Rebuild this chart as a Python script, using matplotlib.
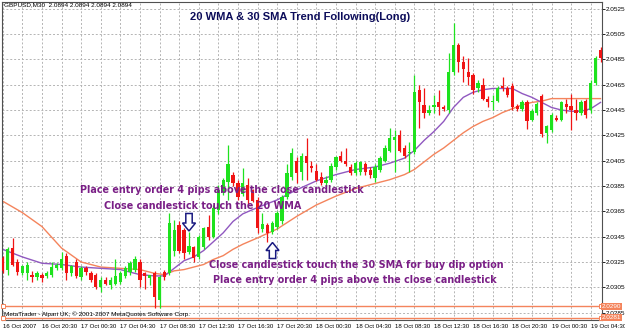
import matplotlib
matplotlib.use("Agg")
import matplotlib.pyplot as plt
from matplotlib.patches import Rectangle, Polygon

# ---------------- data (GBPUSD M30) ----------------
opens = [2.0328, 2.0319, 2.0336, 2.0325, 2.0316, 2.0316, 2.0315, 2.0313, 2.0315, 2.0314,
         2.0315, 2.0320, 2.0320, 2.0330, 2.0316, 2.0325, 2.0313, 2.0320, 2.0316, 2.0315,
         2.0305, 2.0311, 2.0307, 2.0308, 2.0309, 2.0314, 2.0317, 2.0319, 2.0325, 2.0316,
         2.0312, 2.0316, 2.0295, 2.0317, 2.0316, 2.0334, 2.0354, 2.0350, 2.0333, 2.0337,
         2.0329, 2.0337, 2.0353, 2.0345, 2.0366, 2.0380, 2.0388, 2.0394, 2.0387, 2.0379,
         2.0386, 2.0382, 2.0374, 2.0351, 2.0354, 2.0349, 2.0353, 2.0357, 2.0376, 2.0392,
         2.0405, 2.0396, 2.0409, 2.0401, 2.0397, 2.0392, 2.0387, 2.0390, 2.0400, 2.0409,
         2.0405, 2.0400, 2.0395, 2.0396, 2.0402, 2.0398, 2.0391, 2.0398, 2.0405, 2.0413,
         2.0421, 2.0425, 2.0415, 2.0411, 2.0412, 2.0461, 2.0449, 2.0443, 2.0447, 2.0451,
         2.0447, 2.0445, 2.0475, 2.0496, 2.0483, 2.0475, 2.0473, 2.0462, 2.0465, 2.0454,
         2.0451, 2.0452, 2.0464, 2.0462, 2.0464, 2.0448, 2.0446, 2.0451, 2.0437, 2.0443,
         2.0456, 2.0427, 2.0429, 2.0439, 2.0437, 2.0450, 2.0448, 2.0445, 2.0443, 2.0452,
         2.0445, 2.0466, 2.0492]
highs = [2.0330, 2.0337, 2.0344, 2.0327, 2.0323, 2.0325, 2.0318, 2.0318, 2.0316, 2.0318,
         2.0325, 2.0324, 2.0333, 2.0332, 2.0323, 2.0327, 2.0322, 2.0322, 2.0318, 2.0316,
         2.0313, 2.0313, 2.0313, 2.0327, 2.0318, 2.0322, 2.0326, 2.0330, 2.0327, 2.0317,
         2.0315, 2.0318, 2.0315, 2.0319, 2.0364, 2.0358, 2.0357, 2.0352, 2.0349, 2.0338,
         2.0346, 2.0353, 2.0362, 2.0370, 2.0386, 2.0391, 2.0417, 2.0396, 2.0390, 2.0399,
         2.0391, 2.0383, 2.0376, 2.0364, 2.0356, 2.0357, 2.0365, 2.0378, 2.0402, 2.0415,
         2.0408, 2.0411, 2.0423, 2.0405, 2.0402, 2.0396, 2.0393, 2.0403, 2.0409, 2.0413,
         2.0415, 2.0402, 2.0405, 2.0405, 2.0404, 2.0400, 2.0402, 2.0409, 2.0417, 2.0431,
         2.0429, 2.0429, 2.0417, 2.0420, 2.0473, 2.0465, 2.0462, 2.0449, 2.0457, 2.0461,
         2.0449, 2.0490, 2.0514, 2.0498, 2.0488, 2.0486, 2.0474, 2.0469, 2.0470, 2.0456,
         2.0457, 2.0464, 2.0471, 2.0464, 2.0466, 2.0450, 2.0453, 2.0453, 2.0446, 2.0451,
         2.0458, 2.0433, 2.0443, 2.0441, 2.0452, 2.0454, 2.0458, 2.0454, 2.0453, 2.0454,
         2.0469, 2.0488, 2.0495]
lows = [2.0316, 2.0315, 2.0322, 2.0315, 2.0315, 2.0311, 2.0309, 2.0311, 2.0309, 2.0312,
        2.0313, 2.0319, 2.0319, 2.0311, 2.0314, 2.0312, 2.0311, 2.0315, 2.0309, 2.0304,
        2.0301, 2.0307, 2.0304, 2.0307, 2.0308, 2.0312, 2.0315, 2.0317, 2.0305, 2.0304,
        2.0307, 2.0289, 2.0289, 2.0311, 2.0315, 2.0330, 2.0332, 2.0327, 2.0331, 2.0325,
        2.0327, 2.0335, 2.0342, 2.0344, 2.0363, 2.0378, 2.0374, 2.0385, 2.0374, 2.0377,
        2.0370, 2.0372, 2.0348, 2.0349, 2.0341, 2.0347, 2.0351, 2.0355, 2.0375, 2.0390,
        2.0387, 2.0390, 2.0390, 2.0396, 2.0389, 2.0386, 2.0385, 2.0388, 2.0398, 2.0404,
        2.0401, 2.0394, 2.0394, 2.0394, 2.0394, 2.0391, 2.0388, 2.0396, 2.0404, 2.0412,
        2.0396, 2.0412, 2.0407, 2.0396, 2.0410, 2.0431, 2.0439, 2.0441, 2.0443, 2.0441,
        2.0444, 2.0443, 2.0473, 2.0475, 2.0467, 2.0465, 2.0458, 2.0459, 2.0453, 2.0447,
        2.0445, 2.0451, 2.0460, 2.0455, 2.0445, 2.0444, 2.0444, 2.0430, 2.0436, 2.0441,
        2.0424, 2.0419, 2.0428, 2.0436, 2.0436, 2.0443, 2.0429, 2.0437, 2.0441, 2.0439,
        2.0443, 2.0465, 2.0483]
closes = [2.0318, 2.0335, 2.0323, 2.0317, 2.0322, 2.0323, 2.0313, 2.0316, 2.0312, 2.0316,
          2.0321, 2.0323, 2.0327, 2.0316, 2.0322, 2.0314, 2.0320, 2.0317, 2.0311, 2.0305,
          2.0311, 2.0308, 2.0311, 2.0314, 2.0316, 2.0320, 2.0324, 2.0327, 2.0311, 2.0314,
          2.0315, 2.0297, 2.0313, 2.0313, 2.0356, 2.0350, 2.0334, 2.0332, 2.0338, 2.0328,
          2.0345, 2.0352, 2.0345, 2.0368, 2.0382, 2.0390, 2.0402, 2.0387, 2.0376, 2.0387,
          2.0374, 2.0373, 2.0352, 2.0355, 2.0348, 2.0356, 2.0364, 2.0376, 2.0395, 2.0411,
          2.0395, 2.0409, 2.0403, 2.0399, 2.0390, 2.0387, 2.0390, 2.0401, 2.0408, 2.0405,
          2.0402, 2.0395, 2.0403, 2.0404, 2.0396, 2.0394, 2.0400, 2.0407, 2.0415, 2.0423,
          2.0424, 2.0413, 2.0409, 2.0412, 2.0459, 2.0451, 2.0443, 2.0445, 2.0449, 2.0447,
          2.0446, 2.0475, 2.0496, 2.0483, 2.0477, 2.0471, 2.0461, 2.0466, 2.0454, 2.0451,
          2.0452, 2.0462, 2.0462, 2.0457, 2.0447, 2.0446, 2.0451, 2.0436, 2.0444, 2.0450,
          2.0426, 2.0432, 2.0441, 2.0437, 2.0451, 2.0447, 2.0445, 2.0443, 2.0451, 2.0441,
          2.0466, 2.0486, 2.0486]

# moving averages read at selected bars
ma_bars = [0, 4, 8, 12, 16, 20, 24, 28, 31, 33, 35, 37, 39, 41, 43, 45, 47, 49, 52, 56,
           60, 64, 68, 72, 76, 79, 82, 84, 86, 88, 90, 92, 94, 96, 98, 100, 102, 104, 106,
           108, 110, 112, 114, 116, 118, 120, 122]
wma20 = [2.0335, 2.0329, 2.0324, 2.0323, 2.0321, 2.0320, 2.0319, 2.0315, 2.0314, 2.0314,
         2.0320, 2.0326, 2.0329, 2.0334, 2.0341, 2.0348, 2.0357, 2.0363, 2.0368, 2.0374,
         2.0382, 2.0389, 2.0394, 2.0398, 2.0400, 2.0403, 2.0407, 2.0413, 2.0421, 2.0428,
         2.0436, 2.0447, 2.0455, 2.0459, 2.0461, 2.0462, 2.0462, 2.0462, 2.0458, 2.0455,
         2.0451, 2.0447, 2.0445, 2.0444, 2.0444, 2.0446, 2.0451]
sma30 = [2.0373, 2.0364, 2.0353, 2.0336, 2.0325, 2.0321, 2.0320, 2.0319, 2.0316, 2.0315,
         2.0318, 2.0319, 2.0321, 2.0323, 2.0327, 2.0330, 2.0335, 2.0339, 2.0344, 2.0351,
         2.0361, 2.0370, 2.0377, 2.0383, 2.0387, 2.0390, 2.0394, 2.0398, 2.0404, 2.0410,
         2.0415, 2.0421, 2.0427, 2.0432, 2.0436, 2.0439, 2.0443, 2.0446, 2.0449, 2.0451,
         2.0452, 2.0454, 2.0454, 2.0454, 2.0454, 2.0454, 2.0454]

price_ticks = [2.0285, 2.0305, 2.0325, 2.0345, 2.0365, 2.0385, 2.0405, 2.0425,
               2.0445, 2.0465, 2.0485, 2.0505, 2.0525]
time_label_bars = [0, 8, 16, 24, 32, 40, 48, 56, 64, 72, 80, 88, 96, 104, 112, 120]
time_labels = ["16 Oct 2007", "16 Oct 20:30", "17 Oct 00:30", "17 Oct 04:30",
               "17 Oct 08:30", "17 Oct 12:30", "17 Oct 16:30", "17 Oct 20:30",
               "18 Oct 00:30", "18 Oct 04:30", "18 Oct 08:30", "18 Oct 12:30",
               "18 Oct 16:30", "18 Oct 20:30", "19 Oct 00:30", "19 Oct 04:30"]
order_lines = [2.0290, 2.0281]

header = "GBPUSD,M30  2.0894 2.0894 2.0894 2.0894"
title = "20 WMA & 30 SMA Trend Following(Long)"
note1a = "Place entry order 4 pips above the close candlestick"
note1b = "Close candlestick touch the 20 WMA"
note2a = "Close candlestick touch the 30 SMA for buy dip option"
note2b = "Place entry order 4 pips above the close candlestick"
footer = "MetaTrader - Alpari UK, \u00a9 2001-2007 MetaQuotes Software Corp."

# ---------------- figure ----------------
W, H = 625, 330
fig = plt.figure(figsize=(W / 100, H / 100), dpi=100, facecolor="white")

def fx(px):
    return px / W

def fy(py):
    return 1 - py / H

L, R, T, B = 2, 602, 1.5, 320
ax = fig.add_axes([fx(L), fy(B), fx(R) - fx(L), fy(T) - fy(B)])
ax.set_facecolor("white")

# pixel geometry of the original chart: bar i at x = 2.7 + 4.9 i ; 0.002 per 25.33 px
bar_px = 4.9
ppx = 0.002 / 25.33
ax.set_xlim((L - 2.7) / bar_px, (R - 2.7) / bar_px)
ax.set_ylim(2.0445 - (B - 110) * ppx, 2.0445 + (110 - T) * ppx)

small_font = ["Liberation Sans", "DejaVu Sans"]

# grid
grid_kw = dict(color="#b4b4b4", lw=0.7, ls=(0, (2.0, 2.0)), zorder=0)
for k in range(0, 124, 4):
    ax.axvline(k, **grid_kw)
for p in price_ticks:
    ax.axhline(p, **grid_kw)

# moving averages
ax.plot(ma_bars, sma30, color="#f4845c", lw=1.0, zorder=2)
ax.plot(ma_bars, wma20, color="#9058c0", lw=1.0, zorder=2)

# candles
bull, bear = "#1ee21e", "#f01414"
body_w = 0.66
for i, (o, h, l, c) in enumerate(zip(opens, highs, lows, closes)):
    col = bull if c >= o else bear
    ax.vlines(i, l, h, color=col, lw=0.9, zorder=3)
    lo, hi = min(o, c), max(o, c)
    ax.add_patch(Rectangle((i - body_w / 2, lo), body_w, max(hi - lo, 0.00003),
                           facecolor=col, edgecolor="none", zorder=4))

# horizontal order lines with their price boxes
orange = "#f4845c"
for p in order_lines:
    ax.axhline(p, color=orange, lw=1.0, zorder=2)
    ax.plot([ax.get_xlim()[0] + 0.3, ax.get_xlim()[1] - 0.3], [p, p], ls="none", marker="s",
            ms=2.6, mfc="white", mec=orange, mew=0.7, clip_on=False, zorder=5)
    ax.text(1.0, p, f"{p:.4f}", transform=ax.get_yaxis_transform(), fontsize=4.6,
            family=small_font, color="white", va="center", ha="left",
            bbox=dict(boxstyle="square,pad=0.15", fc=orange, ec="none"), zorder=6,
            clip_on=False)

# axes / ticks
for s in ax.spines.values():
    s.set_color("#505050")
    s.set_linewidth(0.8)
ax.yaxis.tick_right()
ax.set_yticks(price_ticks)
ax.set_yticklabels([f"{p:.4f}" for p in price_ticks])
ax.tick_params(axis="y", length=2, width=0.6, pad=1.0, labelsize=4.6, colors="black")
ax.set_xticks(time_label_bars)
ax.set_xticklabels(time_labels, ha="left")
ax.tick_params(axis="x", length=0, pad=3.0, labelsize=4.4)
for lab in ax.get_xticklabels() + ax.get_yticklabels():
    lab.set_family(small_font)

# texts
fig.text(fx(3.5), fy(5), header, fontsize=4.6, family=small_font, va="center", ha="left")
fig.text(fx(300), fy(17), title, fontsize=8.0, family=["Liberation Sans", "DejaVu Sans"],
         weight="bold", color="#0c0c5a", ha="center", va="center")
purple = "#7a1f86"
tkw = dict(fontsize=6.9, family=["DejaVu Sans"], weight="bold",
           color=purple, va="center", ha="left")
fig.text(fx(80), fy(190), note1a, **tkw)
fig.text(fx(104), fy(206), note1b, **tkw)
fig.text(fx(209), fy(265), note2a, **tkw)
fig.text(fx(213), fy(280), note2b, **tkw)
fig.text(fx(3.5), fy(314.5), footer, fontsize=4.6, family=small_font, va="center", ha="left")

# hollow block arrows (drawn in pixel space of the figure)
def block_arrow(cx, ytop, ybot, down=True):
    hw, sw, head = 6.5, 3.2, 8.0
    if down:
        pts = [(cx - sw, ytop), (cx + sw, ytop), (cx + sw, ybot - head), (cx + hw, ybot - head),
               (cx, ybot), (cx - hw, ybot - head), (cx - sw, ybot - head)]
    else:
        pts = [(cx - sw, ybot), (cx + sw, ybot), (cx + sw, ytop + head), (cx + hw, ytop + head),
               (cx, ytop), (cx - hw, ytop + head), (cx - sw, ytop + head)]
    poly = Polygon([(fx(x), fy(y)) for x, y in pts], closed=True, transform=fig.transFigure,
                   facecolor="white", edgecolor="#1a1a80", lw=1.1, zorder=10)
    fig.add_artist(poly)

block_arrow(189, 213.5, 231, down=True)
block_arrow(272.5, 242.5, 258.5, down=False)

fig.savefig("out.png", dpi=100, facecolor="white")
